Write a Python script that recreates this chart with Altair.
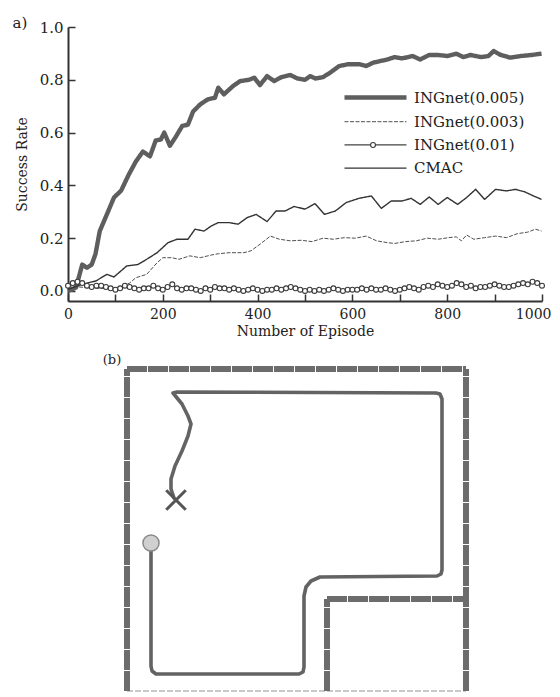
import altair as alt
import pandas as pd

# ---------------- panel (a) data ----------------
series_names = ["INGnet(0.005)", "INGnet(0.003)", "INGnet(0.01)", "CMAC"]

ep_005 = [0, 17, 30, 40, 50, 58, 67, 82, 97, 112, 128, 143, 158, 173, 185, 196, 203, 215, 226, 241,
          253, 264, 279, 295, 310, 317, 329, 348, 363, 382, 393, 405, 420, 435, 450, 469, 484, 500, 511, 522,
          538, 553, 572, 591, 614, 629, 644, 659, 674, 689, 705, 727, 743, 762, 781, 800, 819, 834, 849, 872,
          887, 898, 913, 933, 955, 978, 999]
val_005 = [0.0, 0.013, 0.10, 0.088, 0.10, 0.14, 0.227, 0.29, 0.354, 0.38, 0.44, 0.49, 0.528, 0.51, 0.57, 0.574, 0.60, 0.55, 0.58, 0.625,
           0.63, 0.68, 0.707, 0.726, 0.732, 0.77, 0.745, 0.776, 0.795, 0.80, 0.808, 0.78, 0.814, 0.795, 0.81, 0.818, 0.805, 0.80, 0.814, 0.805,
           0.81, 0.827, 0.852, 0.859, 0.859, 0.852, 0.865, 0.871, 0.877, 0.886, 0.881, 0.89, 0.877, 0.894, 0.894, 0.89, 0.899, 0.886, 0.894, 0.886,
           0.89, 0.909, 0.894, 0.884, 0.89, 0.894, 0.899]

ep_003 = [0, 50, 100, 130, 143, 166, 188, 200, 219, 234, 257, 279, 302, 317, 340, 371, 386, 405, 427, 446,
          469, 492, 515, 538, 560, 583, 606, 629, 651, 674, 689, 712, 735, 758, 781, 803, 819, 830, 841, 856,
          879, 902, 925, 948, 970, 986, 999]
val_003 = [0.02, 0.01, 0.01, 0.03, 0.05, 0.063, 0.107, 0.126, 0.126, 0.12, 0.133, 0.126, 0.136, 0.141, 0.145, 0.145, 0.152, 0.177, 0.208, 0.196,
           0.19, 0.192, 0.187, 0.2, 0.196, 0.202, 0.2, 0.208, 0.19, 0.183, 0.18, 0.187, 0.19, 0.2, 0.196, 0.202, 0.205, 0.19, 0.212, 0.196,
           0.202, 0.208, 0.202, 0.217, 0.223, 0.234, 0.227]

ep_001 = list(range(0, 1001, 10))
val_001 = [0.02, 0.03, 0.035, 0.03, 0.02, 0.015, 0.02, 0.02, 0.015, 0.01,
           0.005, 0.01, 0.02, 0.015, 0.01, 0.005, 0.01, 0.01, 0.02, 0.01,
           0.005, 0.015, 0.025, 0.01, 0.005, 0.01, 0.01, 0.005, 0.0, 0.01,
           0.005, 0.015, 0.01, 0.01, 0.005, 0.01, 0.005, 0.0, 0.005, 0.01,
           0.005, 0.0, 0.005, 0.005, 0.01, 0.005, 0.01, 0.015, 0.01, 0.005,
           0.0, 0.005, 0.0, 0.005, 0.0, 0.005, 0.01, 0.005, 0.0, 0.005,
           0.005, 0.005, 0.01, 0.005, 0.01, 0.005, 0.005, 0.01, 0.005, 0.0,
           0.005, 0.01, 0.015, 0.01, 0.005, 0.015, 0.02, 0.015, 0.025, 0.02,
           0.015, 0.02, 0.03, 0.025, 0.015, 0.02, 0.01, 0.015, 0.015, 0.02,
           0.025, 0.02, 0.015, 0.015, 0.02, 0.025, 0.03, 0.025, 0.035, 0.03,
           0.02]

ep_cmac = [0, 29, 59, 82, 97, 124, 147, 166, 188, 211, 230, 253, 268, 287, 302, 317, 340, 359, 378, 397,
           420, 439, 458, 477, 500, 521, 541, 564, 587, 614, 640, 661, 682, 705, 724, 743, 762, 781, 800, 822,
           841, 860, 879, 902, 925, 944, 963, 982, 999]
val_cmac = [0.006, 0.025, 0.038, 0.063, 0.053, 0.095, 0.10, 0.12, 0.145, 0.183, 0.196, 0.196, 0.234, 0.227, 0.246, 0.259, 0.259, 0.253, 0.278, 0.29,
            0.263, 0.303, 0.303, 0.32, 0.31, 0.331, 0.29, 0.303, 0.335, 0.351, 0.36, 0.313, 0.341, 0.341, 0.351, 0.328, 0.356, 0.328, 0.354, 0.328,
            0.354, 0.385, 0.347, 0.385, 0.379, 0.385, 0.376, 0.36, 0.347]

x_ticks = list(range(0, 1001, 100))
y_ticks = [0.0, 0.1, 0.2, 0.3, 0.4, 0.5, 0.6, 0.7, 0.8, 0.9, 1.0]

# ---------------- panel (b) data (maze, environment units) ----------------
wall_x = [0, 339, 0, 200, 200]
wall_y = [0, 0, 322, 92, 0]
wall_x2 = [0, 339, 339, 336, 200]
wall_y2 = [322, 322, 322, 92, 92]

floor_x = [0]
floor_y = [0]
floor_x2 = [339]
floor_y2 = [0]

path_x = [24, 24, 25, 29, 172, 176, 177, 177, 179, 184, 193, 310, 314, 315, 315, 313, 309, 50, 46,
          55, 61, 64, 61, 55, 48, 44, 44, 47]
path_y = [148, 25, 20, 17, 17, 19, 24, 95, 104, 110, 114, 115, 117, 121, 292, 297, 298, 299, 298,
          287, 275, 267, 255, 240, 225, 212, 202, 193]

start_x = [24]
start_y = [148]
goal_x = [49]
goal_y = [191]

# ---------------- build tables ----------------
rows = []
for name, eps, vals in [("INGnet(0.005)", ep_005, val_005), ("INGnet(0.003)", ep_003, val_003),
                        ("INGnet(0.01)", ep_001, val_001), ("CMAC", ep_cmac, val_cmac)]:
    for e, v in zip(eps, vals):
        rows.append({"episode": e, "rate": v, "series": name})
df_a = pd.DataFrame(rows)
df_pts = df_a[df_a["series"] == "INGnet(0.01)"]

FONT = "DejaVu Serif"
TXT = "#222"

W_A, H_A = 474, 274

x_enc = alt.X("episode:Q", scale=alt.Scale(domain=[0, 1000], nice=False),
              axis=alt.Axis(values=x_ticks, title="Number of Episode",
                            labelExpr="datum.value % 200 == 0 ? datum.value : ''",
                            labelFlush=False, labelFontSize=14,
                            labelAlign={"condition": {"test": "datum.value == 1000", "value": "right"},
                                        "value": "center"},
                            labelOffset={"condition": {"test": "datum.value == 1000", "value": 9},
                                         "value": 0},
                            gridDash=[7, H_A - 7], gridDashOffset=7,
                            labelPadding=6, titlePadding=3))
y_enc = alt.Y("rate:Q", scale=alt.Scale(domain=[-0.038, 1.0], nice=False, zero=False),
              axis=alt.Axis(values=y_ticks, title="Success Rate",
                            labelExpr="round(datum.value * 10) % 2 == 0 ? format(datum.value, '.1f') : ''",
                            gridDash=[7, 1000], labelPadding=5, titlePadding=10))

leg = dict(title=None, orient="none", legendX=274, legendY=63,
           symbolType="M-6.2,0L6.2,0", symbolSize=100,
           symbolOffset=26, labelOffset=31, rowPadding=7.2,
           labelFont=FONT, labelFontSize=15, labelColor=TXT)

lines = alt.Chart(df_a).mark_line(strokeJoin="round").encode(
    x=x_enc, y=y_enc,
    color=alt.Color("series:N",
                    scale=alt.Scale(domain=series_names,
                                    range=["#5e5e5e", "#505050", "#444444", "#333333"]),
                    legend=alt.Legend(**leg)),
    strokeWidth=alt.StrokeWidth("series:N",
                                scale=alt.Scale(type="ordinal", domain=series_names,
                                                range=[4.4, 1.0, 1.2, 1.4]),
                                legend=alt.Legend(**leg)),
    strokeDash=alt.StrokeDash("series:N",
                              scale=alt.Scale(type="ordinal", domain=series_names,
                                              range=[[1, 0], [4, 1.5], [1, 0], [1, 0]]),
                              legend=alt.Legend(**leg)),
    order="episode:Q",
)

points = alt.Chart(df_pts).mark_point(shape="circle", filled=True, fill="white", fillOpacity=1,
                                      strokeWidth=1.1, size=24, opacity=1).encode(
    x="episode:Q", y="rate:Q",
    stroke=alt.Stroke("series:N", scale=alt.Scale(domain=["INGnet(0.01)"], range=["#3a3a3a"]),
                      legend=alt.Legend(title=None, orient="none", legendX=302, legendY=115,
                                        symbolType="circle", symbolSize=24,
                                        symbolFillColor="white", symbolStrokeWidth=1.1,
                                        labelOpacity=0, labelFontSize=1)),
)

label_a = alt.Chart(pd.DataFrame({"t": ["a)"]})).mark_text(
    font=FONT, fontSize=15, color=TXT, align="center", baseline="middle").encode(
    text="t:N", x=alt.value(-48), y=alt.value(-4))

panel_a = alt.layer(lines, points, label_a).properties(width=W_A, height=H_A)

# ---------------- panel (b) ----------------
df_walls = pd.DataFrame({"x": wall_x, "y": wall_y, "x2": wall_x2, "y2": wall_y2})
df_floor = pd.DataFrame({"x": floor_x, "y": floor_y, "x2": floor_x2, "y2": floor_y2})
df_path = pd.DataFrame({"x": path_x, "y": path_y, "i": list(range(len(path_x)))})
df_start = pd.DataFrame({"x": start_x, "y": start_y})
df_goal = pd.DataFrame({"x": goal_x, "y": goal_y})

bx = alt.Scale(domain=[-59, 345], nice=False, zero=False)
by = alt.Scale(domain=[-3, 327], nice=False, zero=False)

floor = alt.Chart(df_floor).mark_rule(color="#b8b8b8", strokeWidth=1.5, strokeDash=[6, 2]).encode(
    x=alt.X("x:Q", scale=bx, axis=None), y=alt.Y("y:Q", scale=by, axis=None), x2="x2:Q", y2="y2:Q")
walls = alt.Chart(df_walls).mark_rule(color="#6c6c6c", strokeWidth=6, strokeDash=[20, 1]).encode(
    x=alt.X("x:Q", scale=bx, axis=None), y=alt.Y("y:Q", scale=by, axis=None), x2="x2:Q", y2="y2:Q")
path = alt.Chart(df_path).mark_line(color="#636363", strokeWidth=3.6, strokeJoin="round", strokeCap="round").encode(
    x=alt.X("x:Q", scale=bx, axis=None), y=alt.Y("y:Q", scale=by, axis=None), order="i:Q")
start = alt.Chart(df_start).mark_point(filled=True, fill="#d0d0d0", stroke="#8a8a8a", strokeWidth=1.5,
                                       size=260, opacity=1).encode(
    x=alt.X("x:Q", scale=bx, axis=None), y=alt.Y("y:Q", scale=by, axis=None))
goal = alt.Chart(df_goal).mark_point(shape="M-1,-1L1,1M-1,1L1,-1", filled=False, stroke="#555",
                                     strokeWidth=3, size=380, opacity=1).encode(
    x=alt.X("x:Q", scale=bx, axis=None), y=alt.Y("y:Q", scale=by, axis=None))
label_b = alt.Chart(pd.DataFrame({"t": ["(b)"]})).mark_text(
    font=FONT, fontSize=13, color=TXT, align="center", baseline="middle").encode(
    text="t:N", x=alt.value(44), y=alt.value(-4))

panel_b = alt.layer(floor, walls, path, start, goal, label_b).properties(width=404, height=330)

chart = alt.vconcat(panel_a, panel_b, spacing=16).properties(
    padding={"left": 4, "top": 8, "right": 0, "bottom": 0}
).configure_view(stroke=None).configure_axis(
    domainColor="#333", domainWidth=2, ticks=False, tickSize=0,
    grid=True, gridColor="#333", gridWidth=1.5, gridOpacity=1,
    labelFont=FONT, labelFontSize=15, labelColor=TXT,
    titleFont=FONT, titleFontSize=14, titleFontWeight="normal", titleColor=TXT,
).configure_legend(labelFont=FONT)

chart.save("out.html", embed_options={"renderer": "svg", "actions": False})
